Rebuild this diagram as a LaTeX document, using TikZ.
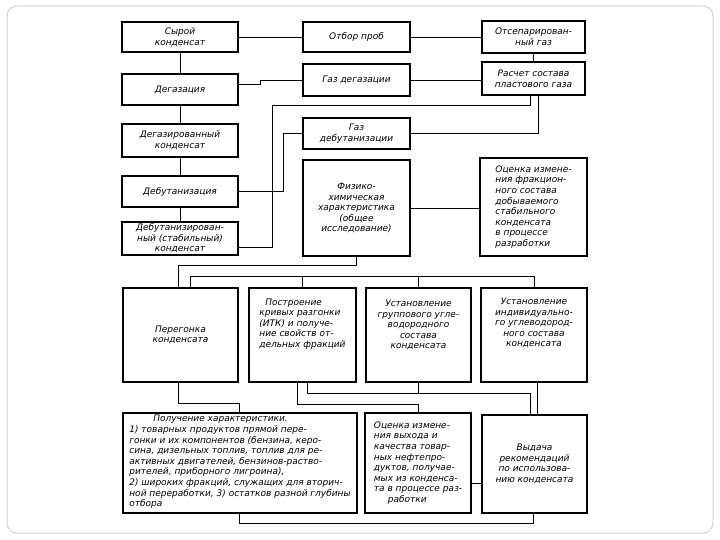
\documentclass[tikz,border=0pt]{standalone}
\usepackage{fontspec}
\setmainfont{DejaVu Sans}[ItalicFont={DejaVu Sans Oblique}]
\newcommand\gostfont{\fontsize{9}{10.6}\selectfont\itshape}
\begin{document}
\begin{tikzpicture}[x=1pt,y=-1pt,
  box/.style={draw=black, line width=1.7pt, rectangle, inner sep=1pt, font=\gostfont, align=center},
  txt/.style={inner sep=0pt, font=\gostfont},
  conn/.style={draw=black, line width=0.8pt}]
\useasboundingbox[fill=white] (0,0) rectangle (720,540);
\draw[gray!35, line width=1pt, rounded corners=10pt] (7,6) rectangle (713,533);
% left column
\node[box, minimum width=116pt, minimum height=30pt] (n1) at (180,37) {Сырой\\конденсат};
\node[box, minimum width=116pt, minimum height=31pt] (n4) at (180,89.5) {Дегазация};
\node[box, minimum width=116pt, minimum height=33pt] (n7) at (180,140.5) {Дегазированный\\конденсат};
\node[box, minimum width=116pt, minimum height=31pt] (n9) at (180,191.5) {Дебутанизация};
\node[box, minimum width=116pt, minimum height=33pt] (n10) at (180,238.5) {Дебутанизирован-\\ный (стабильный)\\конденсат};
% middle column
\node[box, minimum width=107pt, minimum height=30pt] (n2) at (356.5,37) {Отбор проб};
\node[box, minimum width=107pt, minimum height=32pt] (n5) at (356.5,80) {Газ дегазации};
\node[box, minimum width=107pt, minimum height=31pt] (n8) at (356.5,133.5) {Газ\\дебутанизации};
\node[box, minimum width=107pt, minimum height=96pt] (n11) at (356.5,208) {Физико-\\химическая\\характеристика\\(общее\\исследование)};
% right column
\node[box, minimum width=103pt, minimum height=32pt] (n3) at (533.5,37) {Отсепарирован-\\ный газ};
\node[box, minimum width=103pt, minimum height=33pt] (n6) at (533.5,78.5) {Расчет состава\\пластового газа};
\node[box, minimum width=107pt, minimum height=98pt, align=left] (n12) at (533.5,207) {Оценка измене-\\ния фракцион-\\ного состава\\добываемого\\стабильного\\конденсата\\в процессе\\разработки};
% second row
\node[box, minimum width=115pt, minimum height=94pt] (n13) at (180.5,335) {Перегонка\\конденсата};
\node[box, minimum width=107pt, minimum height=94pt] (n14) at (302.5,335) {};
\node[txt, align=left] (t14) at (302.5,324) {\hspace*{6pt}Построение\\кривых разгонки\\(ИТК) и получе-\\ние свойств от-\\дельных фракций};
\node[box, minimum width=105pt, minimum height=94pt] (n15) at (418.5,335) {};
\node[txt, align=center] (t15) at (418.5,325) {Установление\\группового угле-\\водородного\\состава\\конденсата};
\node[box, minimum width=106pt, minimum height=94pt] (n16) at (534,335) {};
\node[txt, align=center] (t16) at (534,323) {Установление\\индивидуально-\\го углеводород-\\ного состава\\конденсата};
% third row
\node[box, minimum width=234pt, minimum height=100pt] (n17) at (240,463) {};
\node[txt, align=left] (t17) at (240,462) {\hspace*{24pt}Получение характеристики.\\1) товарных продуктов прямой пере-\\гонки и их компонентов (бензина, керо-\\сина, дизельных топлив, топлив для ре-\\активных двигателей, бензинов-раство-\\рителей, приборного лигроина),\\2) широких фракций, служащих для вторич-\\ной переработки, 3) остатков разной глубины\\отбора};
\node[box, minimum width=106pt, minimum height=100pt, align=left] (n18) at (418,463) {Оценка измене-\\ния выхода и\\качества товар-\\ных нефтепро-\\дуктов, получае-\\мых из конденса-\\та в процессе раз-\\\hspace*{14pt}работки};
\node[box, minimum width=105pt, minimum height=98pt] (n19) at (534.5,464) {Выдача\\рекомендаций\\по использова-\\нию конденсата};
% connectors
\coordinate (b1) at (0,265);
\coordinate (b2) at (0,276);
\coordinate (b3) at (0,393);
\draw[conn] (n1.east) -- (n2.west);
\draw[conn] (n2.east) -- (n3.west);
\draw[conn] (n3.south) -- (n6.north);
\draw[conn] (n1.south) -- (n4.north);
\draw[conn] (n4.south) -- (n7.north);
\draw[conn] (n7.south) -- (n9.north);
\draw[conn] (n9.south) -- (n10.north);
\draw[conn] ([yshift=5.5pt]n4.east) -- (260,84) |- (n5.west);
\draw[conn] (n5.east) -- (n5.east -| n6.west);
\draw[conn] ([yshift=-8.5pt]n10.east) -- (272,247) -- (272,105) -| ([xshift=-3.5pt]n6.south);
\draw[conn] (n9.east) -- (283,191.5) |- (n8.west);
\draw[conn] (n8.east) -| ([xshift=4.5pt]n6.south);
\draw[conn] (n11.east) -- (n11.east -| n12.west);
\draw[conn] (n11.south) -- (n11.south |- b1) -| ([xshift=-2.5pt]n13.north);
\draw[conn] ([xshift=9.5pt]n13.north) -- (190,276) -| (n16.north);
\draw[conn] (n14.north) -- (n14.north |- b2);
\draw[conn] (n15.north) -- (n15.north |- b2);
\draw[conn] ([xshift=-2.5pt]n13.south) -- (178,403) -| ([xshift=-1pt]n17.north);
\draw[conn] ([xshift=-5.5pt]n14.south) -- (297,404) -| (n18.north);
\draw[conn] ([xshift=4.5pt]n14.south) -- (307,393) -| ([xshift=-4.5pt]n19.north);
\draw[conn] (n15.south) -- (n15.south |- b3);
\draw[conn] ([xshift=3.5pt]n16.south) -- ([xshift=3.5pt]n16.south |- n19.north);
\draw[conn] ([yshift=-20pt]n18.east) -- ([yshift=-20pt]n18.east -| n19.west);
\draw[conn] ([xshift=-1pt]n17.south) -- (239,523) -| ([xshift=-1.5pt]n19.south);
\end{tikzpicture}
\end{document}
